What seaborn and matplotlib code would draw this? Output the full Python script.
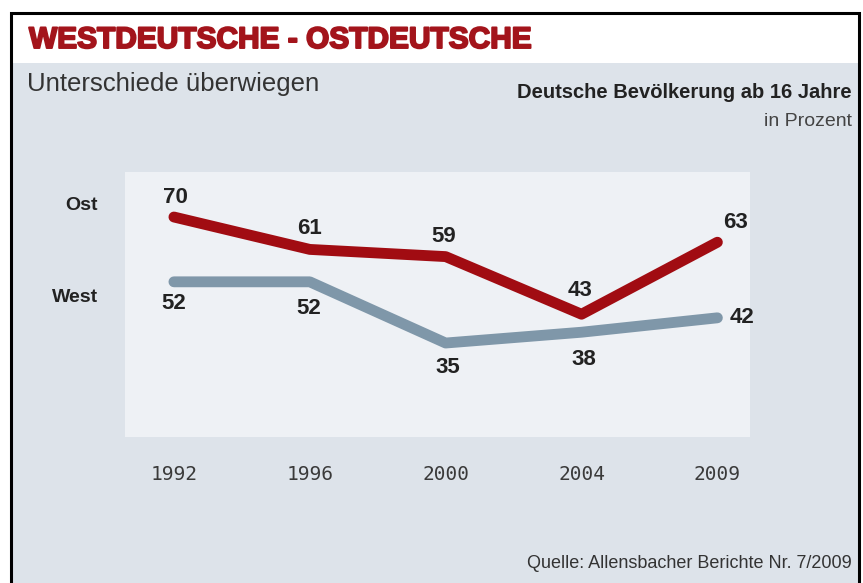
import matplotlib
matplotlib.use("Agg")
import matplotlib.pyplot as plt
import matplotlib.patheffects as pe
import seaborn as sns
import pandas as pd
from matplotlib.patches import Rectangle

# ---- data ----
years = ["1992", "1996", "2000", "2004", "2009"]
ost = [70, 61, 59, 43, 63]
west = [52, 52, 35, 38, 42]
series_names = ["Ost", "West"]

title = "WESTDEUTSCHE - OSTDEUTSCHE"
subtitle = "Unterschiede überwiegen"
unit_main = "Deutsche Bevölkerung ab 16 Jahre"
unit_sub = "in Prozent"
source = "Quelle: Allensbacher Berichte Nr. 7/2009"

# ---- styles ----
RED = "#a10c12"
BLUE = "#7f97a9"
TITLE_RED = "#a3141b"
BG = "#dde3ea"
PANEL = "#eef1f5"
TXT = "#222222"

# label offsets (pixels) for each value label
ost_off = [(2, 20), (0, 21), (-2, 20), (-2, 24), (18, 20)]
west_off = [(0, -22), (-1, -27), (2, -24), (2, -27), (12, 0)]
west_ha = ["center", "center", "center", "center", "left"]

W, H = 863, 583
DPI = 100
sns.set_theme(style="white")
plt.rcParams["font.family"] = ["Liberation Sans", "DejaVu Sans"]

fig = plt.figure(figsize=(W / DPI, H / DPI), dpi=DPI)
fig.patch.set_facecolor("white")


def fx(px):
    return px / W


def fy(py):
    return 1 - py / H


def frect(x0, y0, x1, y1, **kw):
    r = Rectangle((fx(x0), fy(y1)), fx(x1) - fx(x0), fy(y0) - fy(y1),
                  transform=fig.transFigure, **kw)
    fig.patches.append(r)


# background panels
frect(12, 63, 858, 583, facecolor=BG, edgecolor="none", zorder=-2)
# border
frect(11, 13, 859, 590, facecolor="none", edgecolor="black", linewidth=2.2, zorder=5)

# axes (inner plot panel)
ax_l, ax_t, ax_r, ax_b = 125, 172, 750, 437
ax = fig.add_axes([fx(ax_l), fy(ax_b), fx(ax_r) - fx(ax_l), fy(ax_t) - fy(ax_b)])
ax.set_zorder(1)
ax.set_facecolor(PANEL)

pos = list(range(len(years)))
df = pd.DataFrame({
    "pos": pos * 2,
    "value": ost + west,
    "region": [series_names[0]] * len(years) + [series_names[1]] * len(years),
})
sns.lineplot(data=df, x="pos", y="value", hue="region",
             palette={"Ost": RED, "West": BLUE}, linewidth=7.8,
             legend=False, sort=False, ax=ax, zorder=3)
for ln in ax.lines:
    ln.set_solid_capstyle("round")
    ln.set_solid_joinstyle("round")

ax.set_xlim(-0.36, 4.24)
ax.set_ylim(8.9, 82.5)
ax.set_xticks(pos)
ax.set_xticklabels(years, family=["DejaVu Sans Mono"], fontsize=14, color="#3a3a3a")
ax.tick_params(axis="x", length=0, pad=20)
ax.set_yticks([])
ax.set_xlabel("")
ax.set_ylabel("")
for s in ax.spines.values():
    s.set_visible(False)

PT = 72 / DPI
for i, v in enumerate(ost):
    dx, dy = ost_off[i]
    ax.annotate(str(v), (pos[i], v), xytext=(dx * PT, dy * PT), textcoords="offset points",
                ha="center", va="center", fontsize=16, fontweight="bold", color=TXT)
for i, v in enumerate(west):
    dx, dy = west_off[i]
    ax.annotate(str(v), (pos[i], v), xytext=(dx * PT, dy * PT), textcoords="offset points",
                ha=west_ha[i], va="center", fontsize=16, fontweight="bold", color=TXT)

# series labels on the left
fig.text(fx(98), fy(205), series_names[0], ha="right", va="center",
         fontsize=14, fontweight="bold", color=TXT)
fig.text(fx(98), fy(298), series_names[1], ha="right", va="center",
         fontsize=14, fontweight="bold", color=TXT)

# texts
fig.text(fx(29), fy(40), title, ha="left", va="center", fontsize=21.5,
         fontweight="bold", color=TITLE_RED,
         path_effects=[pe.withStroke(linewidth=1.4, foreground=TITLE_RED)])
fig.text(fx(27), fy(84), subtitle, ha="left", va="center", fontsize=18.5, color="#333333")
fig.text(fx(852), fy(93), unit_main, ha="right", va="center", fontsize=14.5,
         fontweight="bold", color=TXT)
fig.text(fx(852), fy(121), unit_sub, ha="right", va="center", fontsize=14, color="#444444")
fig.text(fx(852), fy(563), source, ha="right", va="center", fontsize=13, color="#333333")

fig.savefig("out.png", dpi=DPI, facecolor=fig.get_facecolor())
